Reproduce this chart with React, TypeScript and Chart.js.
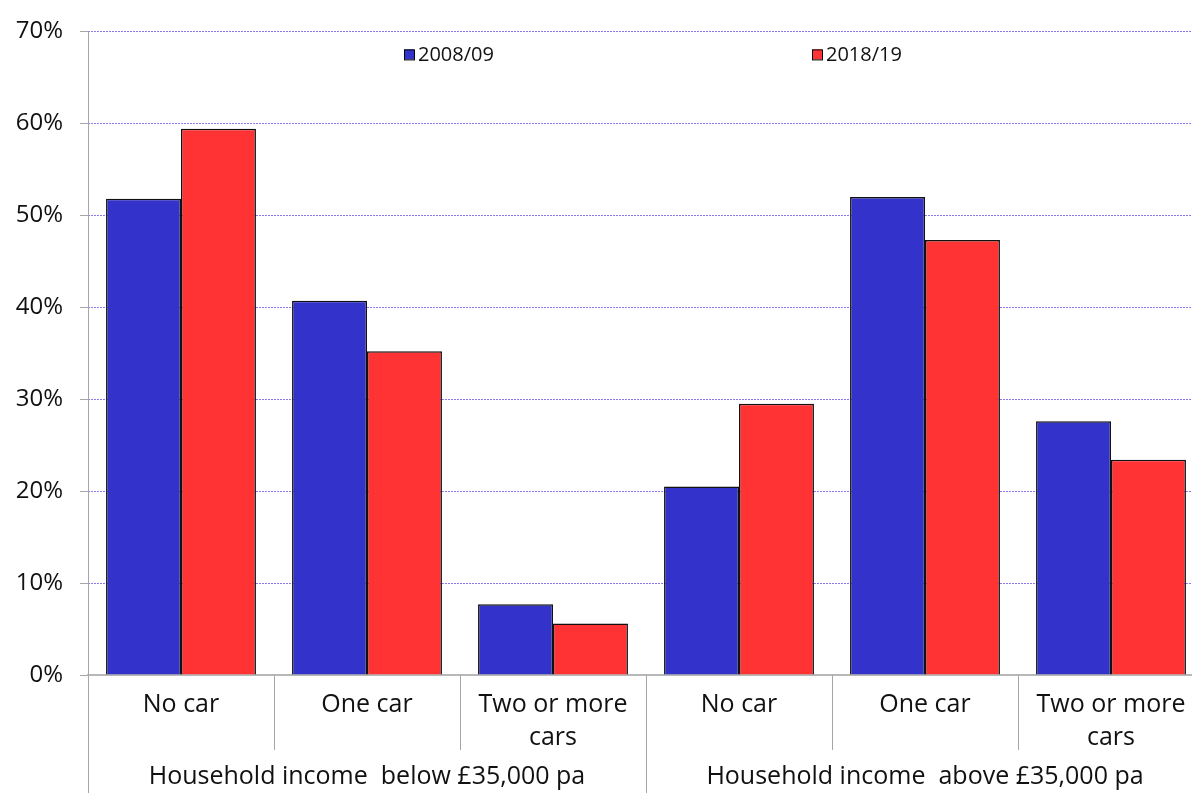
import React, { useEffect, useRef } from "react";
import { Chart, registerables } from "chart.js";

Chart.register(...registerables);

const categories: (string | string[])[] = [
  "No car",
  "One car",
  ["Two or more", "cars"],
  "No car",
  "One car",
  ["Two or more", "cars"],
];
const groupLabels = ["Household income  below £35,000 pa", "Household income  above £35,000 pa"];
const seriesNames = ["2008/09", "2018/19"];
const values2008 = [51.8, 40.7, 7.7, 20.5, 52.0, 27.6];
const values2018 = [59.4, 35.2, 5.6, 29.5, 47.3, 23.4];
const colors = ["#3333cc", "#ff3333"];

const FONT = "'Open Sans', 'Noto Sans', sans-serif";
const TEXT = "#111";
const GRID = "#8f78f0";

const gridPlugin = {
  id: "purpleGrid",
  beforeDatasetsDraw(chart: any) {
    const { ctx, chartArea, scales } = chart;
    const ys = scales.y;
    ctx.save();
    ctx.strokeStyle = GRID;
    ctx.lineWidth = 1;
    ctx.setLineDash([2, 1]);
    ys.ticks.forEach((t: any) => {
      if (t.value === 0) return;
      const y = Math.round(ys.getPixelForValue(t.value)) + 0.5;
      ctx.beginPath();
      ctx.moveTo(chartArea.left, y);
      ctx.lineTo(chartArea.right, y);
      ctx.stroke();
    });
    ctx.restore();
  },
};

const decorPlugin = {
  id: "decor",
  afterDraw(chart: any) {
    const { ctx, chartArea, scales } = chart;
    const xs = scales.x;
    const h = chart.height;
    ctx.save();
    ctx.strokeStyle = "#a6a6a6";
    ctx.lineWidth = 1;
    ctx.beginPath();
    ctx.moveTo(chartArea.left + 0.5, chartArea.top);
    ctx.lineTo(chartArea.left + 0.5, h);
    ctx.stroke();
    for (let i = 1; i < categories.length; i++) {
      const x = Math.round((xs.getPixelForValue(i - 1) + xs.getPixelForValue(i)) / 2) + 0.5;
      ctx.beginPath();
      ctx.moveTo(x, chartArea.bottom);
      ctx.lineTo(x, i === 3 ? h : chartArea.bottom + 75);
      ctx.stroke();
    }
    ctx.fillStyle = TEXT;
    ctx.font = `25px ${FONT}`;
    ctx.textAlign = "center";
    ctx.textBaseline = "middle";
    const mid = (xs.getPixelForValue(2) + xs.getPixelForValue(3)) / 2;
    ctx.fillText(groupLabels[0], (chartArea.left + mid) / 2, chartArea.bottom + 102);
    ctx.fillText(groupLabels[1], (mid + chartArea.right) / 2, chartArea.bottom + 102);
    const lx = [chartArea.left + 316, chartArea.left + 724];
    const ly = chartArea.top + 23;
    ctx.font = `20px ${FONT}`;
    ctx.textAlign = "left";
    for (let i = 0; i < 2; i++) {
      ctx.fillStyle = colors[i];
      ctx.fillRect(lx[i], ly - 5, 10, 10);
      ctx.strokeStyle = "#000";
      ctx.strokeRect(lx[i] + 0.5, ly - 4.5, 10, 10);
      ctx.fillStyle = TEXT;
      ctx.fillText(seriesNames[i], lx[i] + 14, ly + 1);
    }
    ctx.restore();
  },
};

export default function App() {
  const ref = useRef<HTMLCanvasElement>(null);
  useEffect(() => {
    const chart = new Chart(ref.current!, {
      type: "bar",
      data: {
        labels: categories,
        datasets: [
          { label: seriesNames[0], data: values2008, backgroundColor: colors[0], borderColor: "#111", borderWidth: 1.5 },
          { label: seriesNames[1], data: values2018, backgroundColor: colors[1], borderColor: "#111", borderWidth: 1.5 },
        ],
      },
      options: {
        animation: false,
        responsive: true,
        maintainAspectRatio: false,
        layout: { padding: { top: 29, right: 0, left: 0, bottom: 0 } },
        plugins: { legend: { display: false }, tooltip: { enabled: false } },
        datasets: { bar: { categoryPercentage: 0.806, barPercentage: 1 } },
        scales: {
          x: {
            grid: { display: false },
            border: { display: true, color: "#b8b8b8", width: 2 },
            ticks: { color: TEXT, font: { family: FONT, size: 25, lineHeight: 1.32 }, padding: 5, maxRotation: 0 },
            afterFit: (s: any) => { s.height = 118; },
          },
          y: {
            min: 0,
            max: 70,
            grid: {
              drawOnChartArea: false,
              tickLength: 8,
              tickColor: "#a6a6a6",
            },
            border: { display: true, color: "#a6a6a6" },
            ticks: {
              stepSize: 10,
              color: TEXT,
              font: { family: FONT, size: 24 },
              padding: 17,
              callback: (v: any) => v + "%",
            },
            afterFit: (s: any) => { s.width = 88; },
          },
        },
      },
      plugins: [gridPlugin, decorPlugin],
    });
    return () => chart.destroy();
  }, []);
  return (
    <div style={{ position: "fixed", left: 0, top: 0, width: 1192, height: 793, background: "#fff", overflow: "hidden" }}>
      <div style={{ position: "absolute", left: 0, top: 0, width: 1204, height: 793 }}>
        <canvas ref={ref} />
      </div>
    </div>
  );
}
